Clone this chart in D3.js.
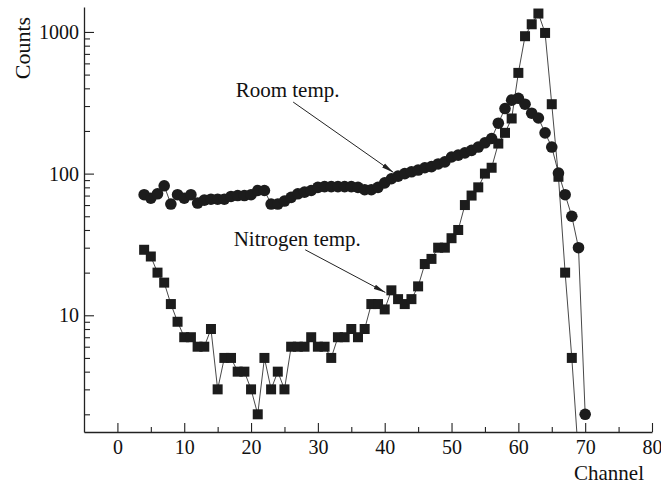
<!DOCTYPE html>
<html>
<head>
<meta charset="utf-8">
<script src="https://cdn.jsdelivr.net/npm/d3@7"></script>
<style>
  body { margin: 0; background: #fff; }
  text { font-family: "Liberation Serif", "Times New Roman", serif; fill: #111; }
</style>
</head>
<body>
<div id="chart"></div>
<script>
// channel of the first point in each series
const roomStart = 4;
const nitrogenStart = 4;

// counts per channel
const roomCounts = [71, 67, 72, 82, 61, 71, 67, 71, 62, 65, 66, 66, 66, 69, 70, 70, 71, 76, 76,
  61, 61, 64, 68, 72, 74, 76, 80, 81, 81, 81, 81, 81, 80, 77, 77, 80, 86, 92, 96, 100, 103,
  106, 110, 112, 117, 121, 131, 135, 140, 146, 154, 165, 177, 227, 288, 330, 340, 309, 267,
  247, 194, 154, 101, 71, 50, 30, 2];

const nitrogenCounts = [29, 26, 20, 17, 12, 9, 7, 7, 6, 6, 8, 3, 5, 5, 4, 4, 3, 2, 5, 3, 4, 3,
  6, 6, 6, 7, 6, 6, 5, 7, 7, 8, 7, 8, 12, 12, 11, 15, 13, 12, 13, 16, 23, 25, 30, 30, 35, 40,
  60, 70, 80, 100, 110, 163, 194, 245, 514, 933, 1133, 1349, 984, 309, 95, 20, 5, 1];

const xMajorTicks = [0, 10, 20, 30, 40, 50, 60, 70, 80];
const xMinorTicks = [5, 15, 25, 35, 45, 55, 65, 75];
const yMajorTicks = [10, 100, 1000];
const yMinorTicks = [2, 3, 4, 5, 6, 7, 8, 9, 20, 30, 40, 50, 60, 70, 80, 90,
  200, 300, 400, 500, 600, 700, 800, 900];

// label text, anchor and arrow start/end in data units (channel, counts)
const roomLabel = { text: "Room temp.", at: [17.7, 346], from: [26.3, 320], to: [41.3, 102] };
const nitrogenLabel = { text: "Nitrogen temp.", at: [17.4, 30.7], from: [28.1, 29], to: [40.1, 14.5] };

const width = 661, height = 488;
const margin = { top: 7, right: 9, bottom: 56, left: 84 };

const roomData = roomCounts.map((v, i) => ({ ch: roomStart + i, v }));
const nitrogenData = nitrogenCounts.map((v, i) => ({ ch: nitrogenStart + i, v }));

const x = d3.scaleLinear().domain([-5, 80]).range([margin.left, width - margin.right]);
const y = d3.scaleLog().domain([1.5, 1500]).range([height - margin.bottom, margin.top]);

const svg = d3.select("#chart").append("svg")
  .attr("width", width)
  .attr("height", height);

const defs = svg.append("defs");
defs.append("clipPath").attr("id", "plot-clip")
  .append("rect")
  .attr("x", margin.left)
  .attr("y", 0)
  .attr("width", width - margin.left)
  .attr("height", height - margin.bottom);

defs.append("marker")
  .attr("id", "arrow")
  .attr("viewBox", "0 0 12 6")
  .attr("refX", 12)
  .attr("refY", 3)
  .attr("markerWidth", 12)
  .attr("markerHeight", 6)
  .attr("markerUnits", "userSpaceOnUse")
  .attr("orient", "auto")
  .append("path")
  .attr("d", "M0,0.6L12,3L0,5.4Z")
  .attr("fill", "#222");

// axes
const xAxisG = svg.append("g").attr("transform", `translate(0,${height - margin.bottom})`);
xAxisG.call(d3.axisBottom(x).tickValues(xMajorTicks).tickSizeInner(-9).tickSizeOuter(0).tickPadding(8));
xAxisG.append("g").call(d3.axisBottom(x).tickValues(xMinorTicks).tickSize(-5).tickFormat(""))
  .select(".domain").remove();

const yAxisG = svg.append("g").attr("transform", `translate(${margin.left},0)`);
yAxisG.call(d3.axisLeft(y).tickValues(yMajorTicks).tickFormat(d3.format("d"))
  .tickSizeInner(-10).tickSizeOuter(0).tickPadding(5));
yAxisG.append("g").call(d3.axisLeft(y).tickValues(yMinorTicks).tickSize(-6).tickFormat(""))
  .select(".domain").remove();

svg.selectAll(".domain").attr("stroke", "#222").attr("stroke-width", 1.3);
svg.selectAll(".tick line").attr("stroke", "#222").attr("stroke-width", 1.1);
svg.selectAll(".tick text")
  .attr("font-family", "Liberation Serif")
  .attr("font-size", 20)
  .attr("fill", "#111");

svg.append("text")
  .attr("transform", `translate(30,${48}) rotate(-90)`)
  .attr("text-anchor", "middle")
  .attr("font-size", 22)
  .text("Counts");

svg.append("text")
  .attr("x", 609)
  .attr("y", 480)
  .attr("text-anchor", "middle")
  .attr("font-size", 21)
  .text("Channel");

// series
const plot = svg.append("g").attr("clip-path", "url(#plot-clip)");
const line = d3.line().x(d => x(d.ch)).y(d => y(d.v));

plot.append("path").datum(roomData)
  .attr("d", line)
  .attr("fill", "none")
  .attr("stroke", "#333")
  .attr("stroke-width", 0.9);

plot.append("path").datum(nitrogenData)
  .attr("d", line)
  .attr("fill", "none")
  .attr("stroke", "#333")
  .attr("stroke-width", 0.9);

const sq = 10;
plot.selectAll(".sq").data(nitrogenData.filter(d => d.v >= 1.5))
  .enter().append("rect")
  .attr("class", "sq")
  .attr("x", d => x(d.ch) - sq / 2)
  .attr("y", d => y(d.v) - sq / 2)
  .attr("width", sq)
  .attr("height", sq)
  .attr("fill", "#1c1c1c");

plot.selectAll(".dot").data(roomData)
  .enter().append("circle")
  .attr("class", "dot")
  .attr("cx", d => x(d.ch))
  .attr("cy", d => y(d.v))
  .attr("r", 5.8)
  .attr("fill", "#1c1c1c");

// annotations
[roomLabel, nitrogenLabel].forEach(a => {
  svg.append("text")
    .attr("x", x(a.at[0]))
    .attr("y", y(a.at[1]))
    .attr("font-size", 21)
    .text(a.text);
  svg.append("line")
    .attr("x1", x(a.from[0]))
    .attr("y1", y(a.from[1]))
    .attr("x2", x(a.to[0]))
    .attr("y2", y(a.to[1]))
    .attr("stroke", "#222")
    .attr("stroke-width", 1)
    .attr("marker-end", "url(#arrow)");
});
</script>
</body>
</html>
